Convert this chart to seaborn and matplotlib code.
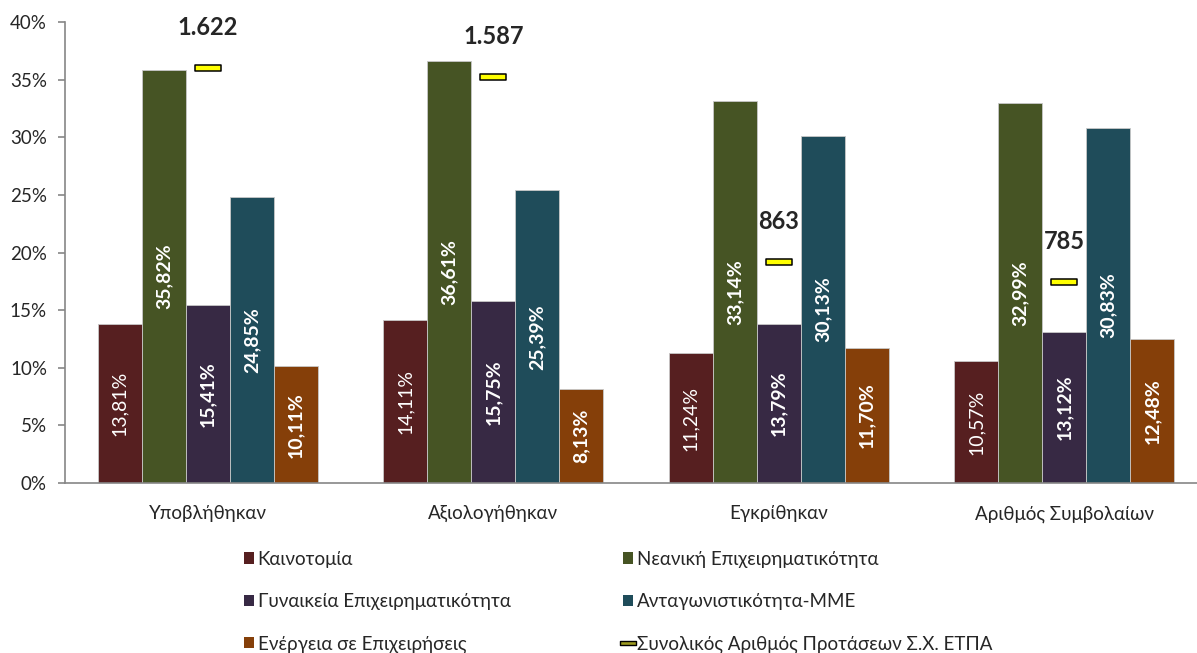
import matplotlib
matplotlib.use("Agg")
import matplotlib.pyplot as plt
import seaborn as sns
import pandas as pd
import numpy as np
from matplotlib.path import Path
from matplotlib.patches import Patch
from matplotlib.lines import Line2D
from matplotlib.ticker import FuncFormatter

categories = ["Υποβλήθηκαν", "Αξιολογήθηκαν", "Εγκρίθηκαν", "Αριθμός Συμβολαίων"]
series = ["Καινοτομία", "Νεανική Επιχειρηματικότητα", "Γυναικεία Επιχειρηματικότητα",
          "Ανταγωνιστικότητα-ΜΜΕ", "Ενέργεια σε Επιχειρήσεις"]
kainotomia = [13.81, 14.11, 11.24, 10.57]
neaniki = [35.82, 36.61, 33.14, 32.99]
gynaikeia = [15.41, 15.75, 13.79, 13.12]
antagonistikotita = [24.85, 25.39, 30.13, 30.83]
energeia = [10.11, 8.13, 11.70, 12.48]
totals = [1622, 1587, 863, 785]
total_label = "Συνολικός Αριθμός Προτάσεων Σ.Χ. ΕΤΠΑ"
colors = ["#561F20", "#465424", "#372944", "#1F4C5A", "#853F09"]

values = [kainotomia, neaniki, gynaikeia, antagonistikotita, energeia]
df = pd.DataFrame([(c, s, v) for s, vals in zip(series, values) for c, v in zip(categories, vals)],
                  columns=["cat", "series", "val"])

sns.set_style("white")
plt.rcParams["font.family"] = ["Lato", "Noto Sans", "DejaVu Sans"]

fig = plt.figure(figsize=(11.97, 6.53), dpi=100)
ax = fig.add_axes([65 / 1197, 170 / 653, 1142 / 1197, 461 / 653])

sns.barplot(data=df, x="cat", y="val", hue="series", order=categories, hue_order=series,
            palette=colors, saturation=1, width=0.77, edgecolor="#c8c8c8", linewidth=0.6,
            legend=False, ax=ax)

for i, cont in enumerate(ax.containers):
    labs = [f"{v:.2f}%".replace(".", ",") for v in values[i]]
    ax.bar_label(cont, labels=labs, label_type="center", rotation=90, color="white",
                 fontsize=14, fontweight="normal" if i == 0 else "bold")

ax.set_ylim(0, 40)
ax.set_xlim(-0.5, 3.5)
ax.set_yticks(np.arange(0, 41, 5))
ax.yaxis.set_major_formatter(FuncFormatter(lambda v, p: f"{v:.0f}%"))
ax.set_xlabel("")
ax.set_ylabel("")
ax.set_xticks(np.arange(-0.5, 4, 1), minor=True)
ax.tick_params(axis="x", which="major", length=0, pad=16, labelsize=13.5)
ax.tick_params(axis="x", which="minor", length=5, color="#868686", width=1.2, direction="out")
ax.tick_params(axis="y", length=5, color="#868686", width=1.2, direction="out", pad=8,
               labelsize=13.5)
ax.tick_params(left=True, bottom=True)
for s in ["top", "right"]:
    ax.spines[s].set_visible(False)
for s in ["left", "bottom"]:
    ax.spines[s].set_color("#868686")
    ax.spines[s].set_linewidth(1.2)

# secondary axis for totals
ax2 = ax.twinx()
rect = Path([(-1, -0.23), (1, -0.23), (1, 0.23), (-1, 0.23), (-1, -0.23)],
            [Path.MOVETO, Path.LINETO, Path.LINETO, Path.LINETO, Path.CLOSEPOLY])
xpos = np.arange(len(categories))
sns.scatterplot(x=xpos, y=totals, marker=rect, s=350, color="#FFFF00", edgecolor="black",
                linewidth=1.1, legend=False, ax=ax2, zorder=5)
for x, t in zip(xpos, totals):
    ax2.annotate(f"{t:,}".replace(",", "."), (x, t), xytext=(0, 29), textcoords="offset points",
                 ha="center", va="center", fontsize=17, fontweight="bold")
ax2.set_ylim(0, 1800)
ax2.set_xlim(-0.5, 3.5)
ax2.set_yticks([])
ax2.set_ylabel("")
for s in ax2.spines.values():
    s.set_visible(False)

handles = [Patch(facecolor=c, edgecolor="none") for c in colors]
h_total = Line2D([], [], linestyle="none", marker=rect, markersize=11,
                 markerfacecolor="#9c9a20", markeredgecolor="black", markeredgewidth=1)
order_h = [handles[0], handles[2], handles[4], handles[1], handles[3], h_total]
order_l = [series[0], series[2], series[4], series[1], series[3], total_label]
fig.legend(order_h, order_l, ncol=2, loc="upper left", bbox_to_anchor=(236 / 1197, 1 - 543 / 653),
           frameon=False, fontsize=13.5, handlelength=0.55, handleheight=0.55,
           handletextpad=0.2, labelspacing=1.35, columnspacing=6.0, borderaxespad=0)

fig.savefig("out.png", dpi=100)
